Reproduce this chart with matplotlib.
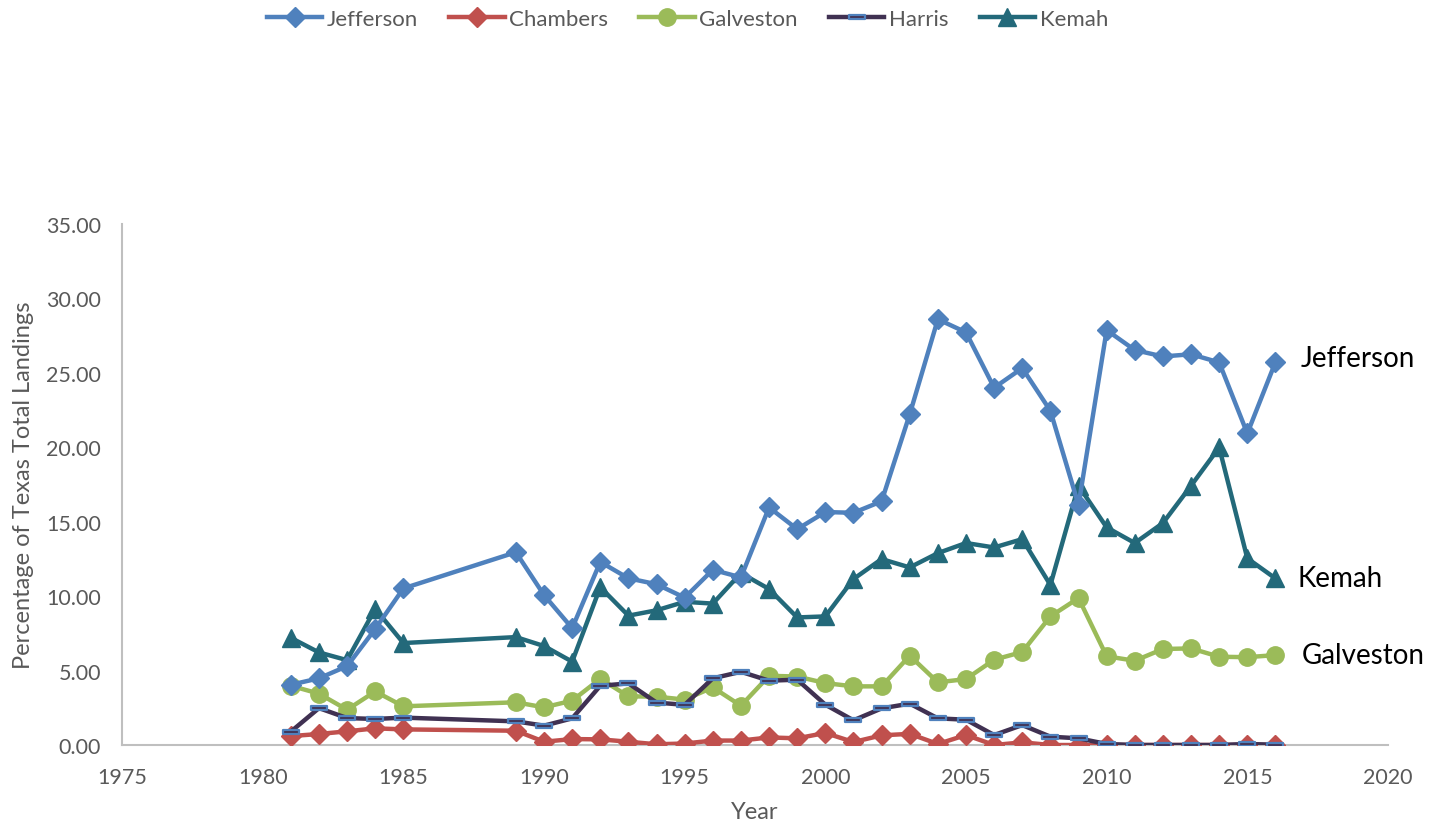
import matplotlib
matplotlib.use("Agg")
import matplotlib.pyplot as plt
from matplotlib.path import Path

plt.rcParams['font.family'] = ['Lato', 'DejaVu Sans']

years = [1981, 1982, 1983, 1984, 1985, 1989, 1990, 1991, 1992, 1993, 1994,
         1995, 1996, 1997, 1998, 1999, 2000, 2001, 2002, 2003, 2004, 2005,
         2006, 2007, 2008, 2009, 2010, 2011, 2012, 2013, 2014, 2015, 2016]

jefferson = [4.05, 4.48, 5.3, 7.8, 10.52, 12.95, 10.07, 7.85, 12.3, 11.2, 10.8,
             9.9, 11.77, 11.26, 15.96, 14.5, 15.65, 15.6, 16.37, 22.22, 28.6, 27.72,
             24.0, 25.32, 22.45, 16.12, 27.87, 26.53, 26.1, 26.25, 25.7, 20.93, 25.72]
chambers = [0.6, 0.74, 0.92, 1.12, 1.05, 0.96, 0.22, 0.4, 0.38, 0.22, 0.05,
            0.1, 0.3, 0.3, 0.51, 0.45, 0.81, 0.2, 0.65, 0.75, 0.07, 0.67,
            0.0, 0.18, 0.0, 0.0, 0.0, 0.0, 0.0, 0.0, 0.0, 0.0, 0.0]
galveston = [3.98, 3.45, 2.37, 3.6, 2.6, 2.87, 2.53, 2.98, 4.45, 3.27, 3.25,
             3.05, 3.87, 2.64, 4.65, 4.6, 4.16, 3.94, 3.94, 6.0, 4.21, 4.43,
             5.73, 6.25, 8.64, 9.87, 5.96, 5.66, 6.45, 6.49, 5.93, 5.9, 6.04]
harris = [0.9, 2.48, 1.81, 1.75, 1.84, 1.59, 1.3, 1.79, 3.98, 4.14, 2.85,
          2.7, 4.48, 4.92, 4.32, 4.39, 2.71, 1.66, 2.46, 2.78, 1.79, 1.7,
          0.67, 1.34, 0.56, 0.45, 0.07, 0.0, 0.0, 0.0, 0.0, 0.07, 0.02]
kemah = [7.2, 6.22, 5.7, 9.15, 6.85, 7.25, 6.65, 5.6, 10.6, 8.69, 9.05,
         9.62, 9.5, 11.55, 10.48, 8.57, 8.64, 11.15, 12.49, 11.93, 12.89, 13.57,
         13.27, 13.83, 10.75, 17.42, 14.62, 13.57, 14.91, 17.42, 19.99, 12.54, 11.19]

x_ticks = [1975, 1980, 1985, 1990, 1995, 2000, 2005, 2010, 2015, 2020]
y_ticks = [0, 5, 10, 15, 20, 25, 30, 35]

# flat bar marker for Harris
dash = Path([(-1, -0.28), (1, -0.28), (1, 0.28), (-1, 0.28), (-1, -0.28)],
            [Path.MOVETO, Path.LINETO, Path.LINETO, Path.LINETO, Path.CLOSEPOLY])

fig = plt.figure(figsize=(14.41, 8.29), dpi=100)
ax = fig.add_axes([0.0847, 0.1001, 0.8785, 0.6285])

ax.plot(years, jefferson, color='#4F81BD', lw=3.2, marker='D', ms=10, label='Jefferson', zorder=5)
ax.plot(years, chambers, color='#C0504D', lw=3.2, marker='D', ms=10, label='Chambers', zorder=3)
ax.plot(years, galveston, color='#9BBB59', lw=3.2, marker='o', ms=12.5, label='Galveston', zorder=4)
ax.plot(years, harris, color='#403152', lw=3.2, marker=dash, ms=12, mfc='#403152',
        mec='#4F81BD', mew=1.6, label='Harris', zorder=4)
ax.plot(years, kemah, color='#23697A', lw=3.2, marker='^', ms=13, label='Kemah', zorder=4)

ax.set_xlim(1975, 2020)
ax.set_ylim(0, 35)
ax.set_xticks(x_ticks)
ax.set_yticks(y_ticks)
ax.set_yticklabels([f'{v:.2f}' for v in y_ticks])
ax.tick_params(length=0, labelsize=15.5, labelcolor='#595959')
ax.tick_params(axis='x', pad=16)
ax.tick_params(axis='y', pad=15)

for side in ['top', 'right']:
    ax.spines[side].set_visible(False)
for side in ['left', 'bottom']:
    ax.spines[side].set_color('#BFBFBF')
    ax.spines[side].set_linewidth(1.5)

ax.set_xlabel('Year', fontsize=17, color='#595959', labelpad=10)
ax.set_ylabel('Percentage of Texas Total Landings', fontsize=17, color='#595959', labelpad=9)

ax.text(2016.9, 26.0, 'Jefferson', fontsize=20, color='black', va='center', ha='left')
ax.text(2016.8, 11.2, 'Kemah', fontsize=20, color='black', va='center', ha='left')
ax.text(2016.95, 6.04, 'Galveston', fontsize=20, color='black', va='center', ha='left')

fig.legend(loc='upper center', bbox_to_anchor=(0.477, 1.012), ncol=5, frameon=False,
           fontsize=16, labelcolor='#595959', handlelength=2.5, columnspacing=1.4,
           handletextpad=0.2)

fig.savefig('out.png', dpi=100)
